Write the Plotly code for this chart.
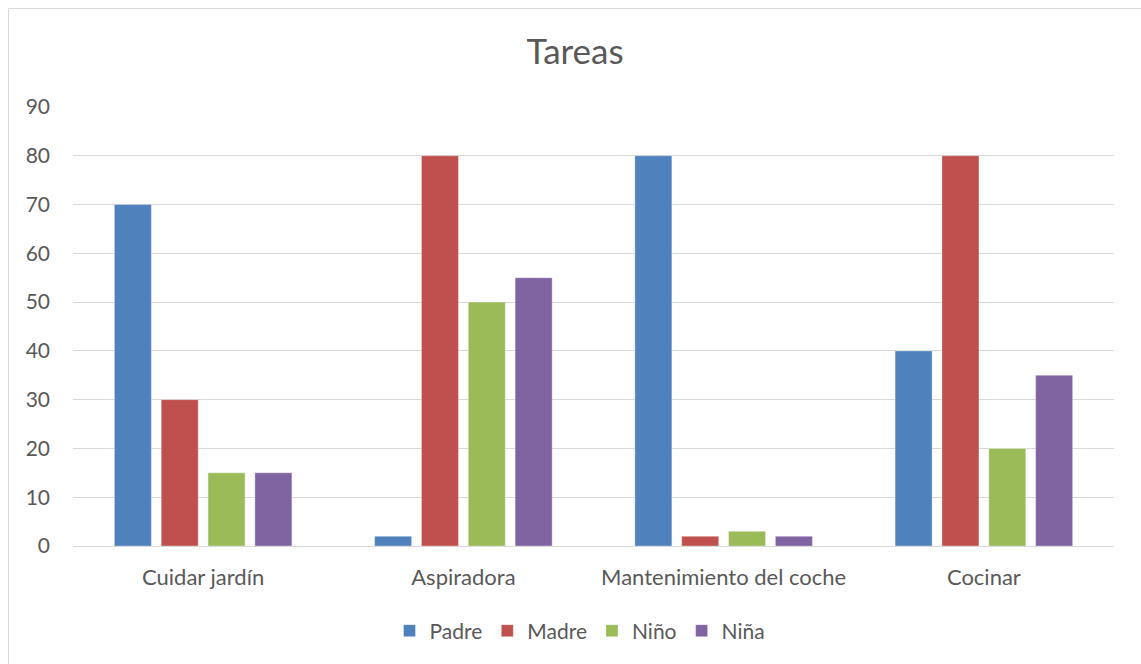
import plotly.graph_objects as go

categories = ["Cuidar jardín", "Aspiradora", "Mantenimiento del coche", "Cocinar"]
series_names = ["Padre", "Madre", "Niño", "Niña"]
padre = [70, 2, 80, 40]
madre = [30, 80, 2, 80]
nino = [15, 50, 3, 20]
nina = [15, 55, 2, 35]
colors = ["#4F81BD", "#C0504D", "#9BBB59", "#8064A2"]

FONT = "Lato"
TXT = "#595959"

fig = go.Figure()
for name, vals, c in zip(series_names, [padre, madre, nino, nina], colors):
    fig.add_trace(go.Bar(name=name, x=categories, y=vals, marker_color=c,
                         marker_line=dict(color="rgba(255,255,255,0.35)", width=1)))

W, H = 1141, 664
L, R, T, B = 73, 27, 107, 118
pw, ph = W - L - R, H - T - B

def px2x(p):
    return (p - L) / pw

def py2y(p):
    return 1 - (p - T) / ph

fig.update_layout(
    width=W, height=H,
    margin=dict(l=L, r=R, t=T, b=B),
    paper_bgcolor="white", plot_bgcolor="white",
    barmode="group", bargap=0.28, bargroupgap=0.21,
    font=dict(family=FONT, color=TXT, size=21),
    title=dict(text="Tareas", x=0.504, xanchor="center", y=1 - 52 / H, yanchor="middle",
               font=dict(size=35, color=TXT, family=FONT)),
    legend=dict(orientation="h", x=px2x(580), xanchor="center", y=py2y(631), yanchor="middle",
                font=dict(size=21, color=TXT), traceorder="normal", itemwidth=30),
    xaxis=dict(showgrid=False, showline=True, linecolor="#D9D9D9", linewidth=1,
               ticks="", ticklabelstandoff=12, tickfont=dict(size=22, color=TXT)),
    yaxis=dict(range=[0, 90], dtick=10, showgrid=True, gridcolor="#D9D9D9", gridwidth=1,
               zeroline=False, showline=False, ticks="", ticklabelstandoff=22,
               tickfont=dict(size=21, color=TXT)),
    shapes=[dict(type="rect", xref="paper", yref="paper",
                 x0=px2x(8.5), x1=px2x(1145), y0=py2y(668), y1=py2y(8.5),
                 line=dict(color="#D9D9D9", width=1), fillcolor="rgba(0,0,0,0)", layer="below")],
)

fig.write_html("out.html", config={"displayModeBar": False},
               post_script="document.body.style.margin='0';document.body.style.padding='0';")
